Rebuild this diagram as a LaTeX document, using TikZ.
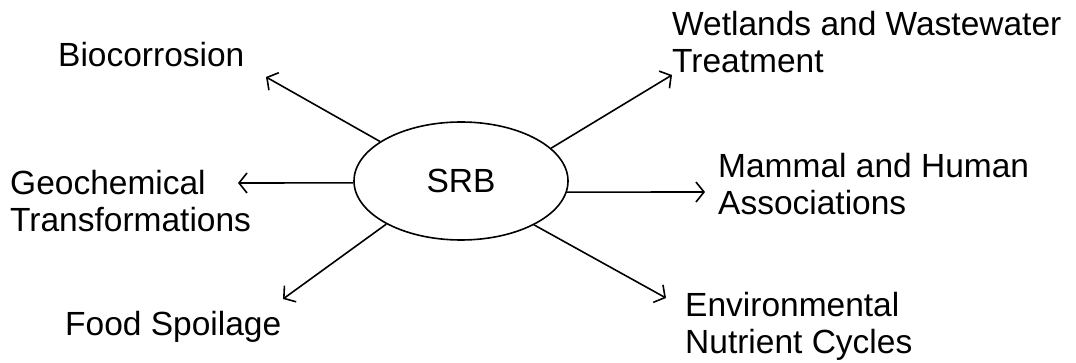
\documentclass[tikz,border=0pt]{standalone}
\usepackage{fontspec}
\setmainfont{Liberation Sans}
\usetikzlibrary{arrows.meta,shapes.geometric}
\tikzset{
  lbl/.style={anchor=base west, inner sep=0pt, align=left, font=\fontsize{33.5}{37}\selectfont},
  arr/.style={line width=1.6pt, -{Straight Barb[length=8pt,width=20pt,line width=1.6pt]}},
  hub/.style={ellipse, draw, line width=1.6pt, minimum width=214pt, minimum height=118pt, inner sep=0pt, font=\fontsize{33.5}{37}\selectfont}
}
\begin{document}
\begin{tikzpicture}[x=1pt,y=-1pt]
\useasboundingbox (0,0) rectangle (1076,363);
\node[hub] (srb) at (461,181) {SRB};
\node[lbl] (bio) at (58,67) {Biocorrosion};
\node[lbl] (wet) at (672,73) {Wetlands and Wastewater\\Treatment};
\node[lbl] (geo) at (10,232) {Geochemical\\Transformations};
\node[lbl] (mam) at (718,215) {Mammal and Human\\Associations};
\node[lbl] (food) at (65,335) {Food Spoilage};
\node[lbl] (env) at (685,353) {Environmental\\Nutrient Cycles};
\coordinate (tbio) at (266,77);
\coordinate (twet) at (672,75);
\coordinate (tgeo) at (238,183);
\coordinate (tfood) at (283,299);
\coordinate (tenv) at (666,298);
\coordinate (tmam) at (705,192);
\draw[arr] (srb.154.8) -- (tbio);
\draw[arr] (srb.20.5) -- (twet);
\draw[arr] (srb.181) -- (tgeo);
\draw[arr] (srb.210.7) -- (tfood);
\draw[arr] (srb.329.3) -- (tenv);
\draw[arr] (srb.354) -- (tmam);
\end{tikzpicture}
\end{document}
